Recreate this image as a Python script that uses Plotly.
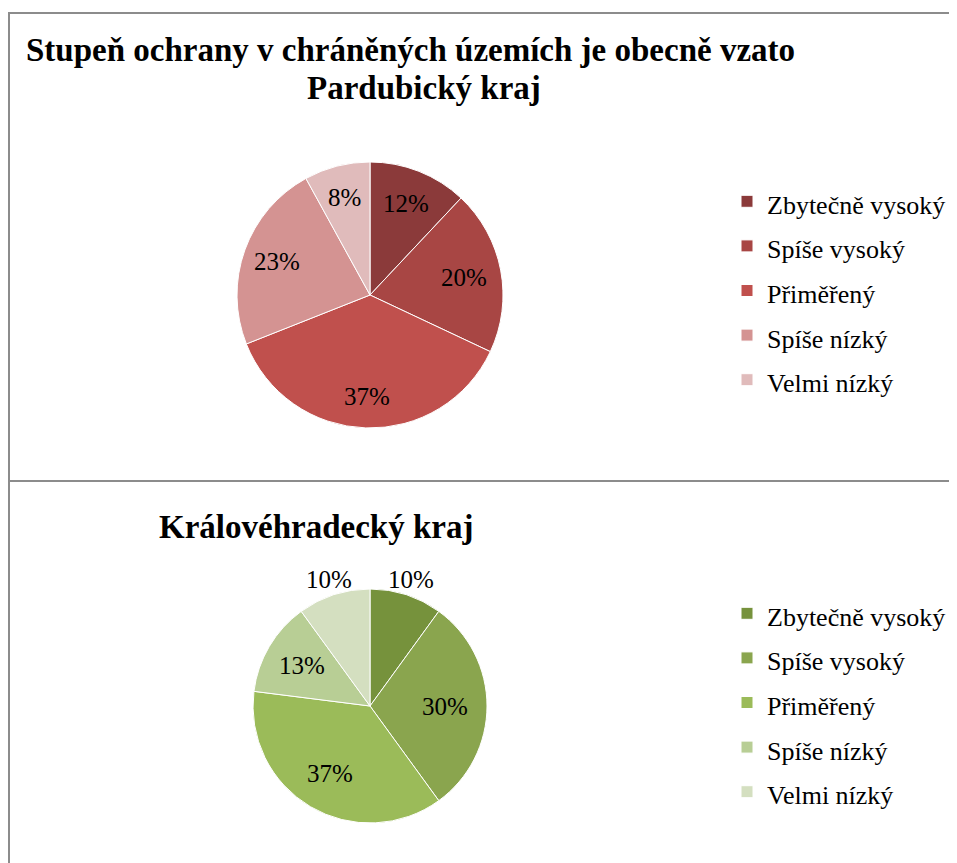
import math
import plotly.graph_objects as go

# ---- data ----
categories = ["Zbytečně vysoký", "Spíše vysoký", "Přiměřený", "Spíše nízký", "Velmi nízký"]
pardubicky_values = [12, 20, 37, 23, 8]
kralovehradecky_values = [10, 30, 37, 13, 10]
title_line1 = "Stupeň ochrany v chráněných územích je obecně vzato"
title_line2 = "Pardubický kraj"
title_bottom = "Královéhradecký kraj"

red_colors = ["#8B3A3A", "#A84644", "#C0504D", "#D49392", "#E0BBBB"]
green_colors = ["#76923C", "#8AA54E", "#9BBB59", "#B8CE95", "#D4DFC0"]

W, H = 957, 863
OFF = 8  # page body margin
FONT = "Liberation Serif, Times New Roman, serif"


def px_x(x):
    return (x - OFF) / W


def px_y(y):
    return 1 - (y - OFF) / H


def legend_labels(variant):
    # slightly different markup per legend so pie legend items are not merged across traces
    sep = ";" * variant
    return [f"<span style='font-size:26px{sep}'>{c}</span>" for c in categories]


def pie_label_annotations(values, cx, cy, r, fracs):
    """Data labels at the slice mid-angles (clockwise from 12 o'clock)."""
    total = float(sum(values))
    anns = []
    cum = 0.0
    for v, f in zip(values, fracs):
        mid = (cum + v / 2.0) / total * 2 * math.pi
        cum += v
        x = cx + f * r * math.sin(mid)
        y = cy - f * r * math.cos(mid)
        anns.append(dict(
            text=f"{round(v / total * 100)}%", x=px_x(x), y=px_y(y),
            xref="paper", yref="paper", xanchor="center", yanchor="middle",
            showarrow=False, font=dict(family=FONT, size=25, color="black")))
    return anns


fig = go.Figure()

C1 = (370, 295, 133)
C2 = (370, 706, 117)

fig.add_trace(go.Pie(
    labels=legend_labels(0),
    values=pardubicky_values,
    sort=False,
    direction="clockwise",
    rotation=0,
    marker=dict(colors=red_colors, line=dict(color="white", width=1)),
    textinfo="none",
    domain=dict(x=[px_x(C1[0] - C1[2]), px_x(C1[0] + C1[2])],
                y=[px_y(C1[1] + C1[2]), px_y(C1[1] - C1[2])]),
    legend="legend",
    hoverinfo="label+percent",
))

fig.add_trace(go.Pie(
    labels=legend_labels(1),
    values=kralovehradecky_values,
    sort=False,
    direction="clockwise",
    rotation=0,
    marker=dict(colors=green_colors, line=dict(color="white", width=1)),
    textinfo="none",
    domain=dict(x=[px_x(C2[0] - C2[2]), px_x(C2[0] + C2[2])],
                y=[px_y(C2[1] + C2[2]), px_y(C2[1] - C2[2])]),
    legend="legend2",
    hoverinfo="label+percent",
))

legend_common = dict(
    font=dict(family=FONT, size=32, color="black"),
    bgcolor="rgba(0,0,0,0)",
    borderwidth=0,
    xanchor="left",
    yanchor="top",
    orientation="v",
)

annotations = [
    dict(text=f"<b>{title_line1}</b>", x=px_x(410), y=px_y(50), xref="paper", yref="paper",
         xanchor="center", yanchor="middle", showarrow=False,
         font=dict(family=FONT, size=33, color="black")),
    dict(text=f"<b>{title_line2}</b>", x=px_x(424), y=px_y(88), xref="paper", yref="paper",
         xanchor="center", yanchor="middle", showarrow=False,
         font=dict(family=FONT, size=33, color="black")),
    dict(text=f"<b>{title_bottom}</b>", x=px_x(316), y=px_y(527), xref="paper", yref="paper",
         xanchor="center", yanchor="middle", showarrow=False,
         font=dict(family=FONT, size=33, color="black")),
]
annotations += pie_label_annotations(pardubicky_values, *C1, [0.74, 0.72, 0.76, 0.74, 0.76])
annotations += pie_label_annotations(kralovehradecky_values, *C2, [1.14, 0.64, 0.67, 0.68, 1.14])

LINE = dict(color="#8C8C8C", width=2)
fig.update_layout(
    width=W,
    height=H,
    margin=dict(l=0, r=0, t=0, b=0),
    paper_bgcolor="white",
    plot_bgcolor="white",
    showlegend=True,
    legend=dict(x=px_x(727), y=px_y(174), **legend_common),
    legend2=dict(x=px_x(727), y=px_y(586), **legend_common),
    annotations=annotations,
    shapes=[
        dict(type="line", xref="paper", yref="paper", x0=px_x(8), x1=1, y0=px_y(13), y1=px_y(13), line=LINE),
        dict(type="line", xref="paper", yref="paper", x0=px_x(9), x1=px_x(9), y0=px_y(13), y1=0, line=LINE),
        dict(type="line", xref="paper", yref="paper", x0=px_x(8), x1=1, y0=px_y(481), y1=px_y(481), line=LINE),
    ],
)

fig.write_html("out.html")
